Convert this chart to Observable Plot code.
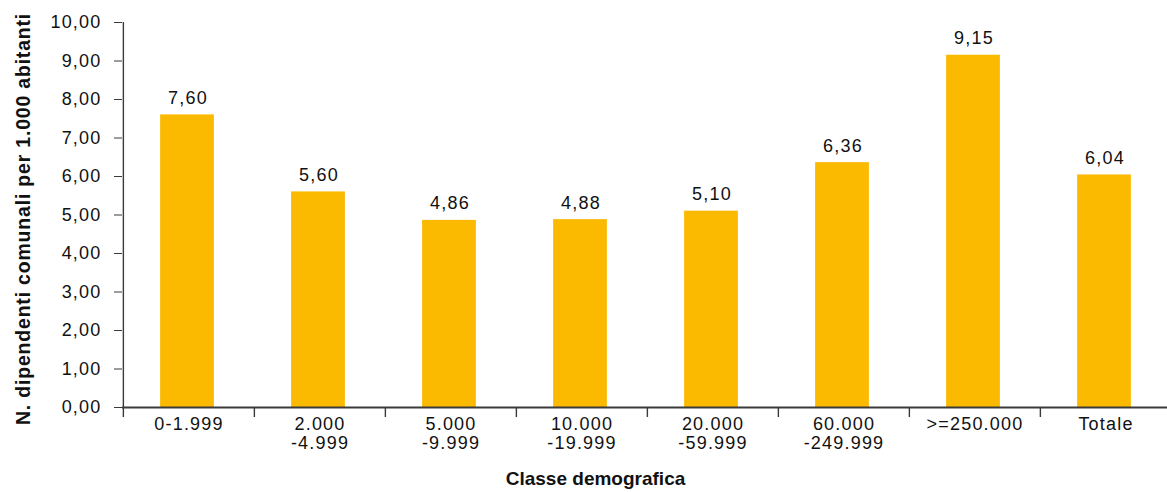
<!DOCTYPE html>
<html>
<head>
<meta charset="utf-8">
<script src="https://cdn.jsdelivr.net/npm/d3@7"></script>
<script src="https://cdn.jsdelivr.net/npm/@observablehq/plot@0.6"></script>
<style>
  html, body { margin: 0; padding: 0; background: #fff; }
  #chart svg { display: block; }
</style>
</head>
<body>
<div id="chart"></div>
<script>
// Dipendenti comunali per 1.000 abitanti, per classe demografica
const categories = ["0-1.999", "2.000\n-4.999", "5.000\n-9.999", "10.000\n-19.999",
  "20.000\n-59.999", "60.000\n-249.999", ">=250.000", "Totale"];
const values = [7.60, 5.60, 4.86, 4.88, 5.10, 6.36, 9.15, 6.04];
const yTicks = [0, 1, 2, 3, 4, 5, 6, 7, 8, 9, 10];
const yTitle = "N. dipendenti comunali per 1.000 abitanti";
const xTitle = "Classe demografica";

const data = categories.map((c, i) => ({cat: c, value: values[i]}));
const fmt = v => v.toFixed(2).replace(".", ",");

const W = 1167, H = 492;
const mL = 122, mR = -5, mT = 22, mB = 85;
const step = (W - mL - mR) / categories.length;
const barW = 54;
const inset = (step - barW) / 2;
const ink = "#111";
const axisInk = "#3a3a3a";
const font = "'Liberation Sans', Arial, Helvetica, sans-serif";
const fs = 18;

const chart = Plot.plot({
  width: W,
  height: H,
  marginLeft: mL,
  marginRight: mR,
  marginTop: mT,
  marginBottom: mB,
  style: {fontFamily: font, fontSize: fs + "px", color: ink, background: "#fff"},
  x: {type: "band", domain: categories, padding: 0, axis: null},
  y: {domain: [0, 10], axis: null},
  marks: [
    Plot.barY(data, {x: "cat", y: "value", fill: "#FBB900", insetLeft: inset - 1.5, insetRight: inset + 1.5}),
    // value labels above each bar
    Plot.text(data, {x: "cat", y: "value", text: d => fmt(d.value), lineAnchor: "bottom",
      dy: -11, dx: -1, fill: ink, fontSize: fs}),
    // y axis: line, ticks and labels
    Plot.axisY({ticks: yTicks, tickSize: 8, tickPadding: 13, tickFormat: fmt, label: null,
      stroke: axisInk, fill: ink, fontSize: fs}),
    Plot.ruleX([categories[0]], {x: d => d, dx: -step / 2, y1: 0, y2: 10, stroke: axisInk, strokeWidth: 1.4}),
    // x axis: boundary ticks between classes, labels centred in each class
    Plot.axisX({ticks: categories, tickSize: 10, tickFormat: () => "", label: null, dx: -step / 2,
      stroke: axisInk, strokeWidth: 1.4}),
    Plot.axisX({ticks: categories, tickSize: 0, tickPadding: 8, label: null, fill: ink,
      fontSize: fs, lineHeight: 1.1}),
    Plot.ruleY([0], {stroke: axisInk, strokeWidth: 2}),
    // axis titles
    Plot.text([yTitle], {frameAnchor: "left", textAnchor: "middle", rotate: -90, dx: -99, dy: 4,
      fontWeight: "bold", fontSize: 19.5, fill: ink}),
    Plot.text([xTitle], {frameAnchor: "bottom", textAnchor: "middle", dx: -52, dy: 77,
      fontWeight: "bold", fontSize: 19, fill: ink})
  ]
});

// wider tracking for the light labels, slightly for the vertical title
d3.select(chart).selectAll("text").style("letter-spacing", "1.2px");
d3.select(chart).selectAll("text")
  .filter(function() { return this.textContent === yTitle; })
  .style("letter-spacing", "0.8px");
d3.select(chart).selectAll("text")
  .filter(function() { return this.textContent === xTitle; })
  .style("letter-spacing", "0px");

document.getElementById("chart").appendChild(chart);
</script>
</body>
</html>
